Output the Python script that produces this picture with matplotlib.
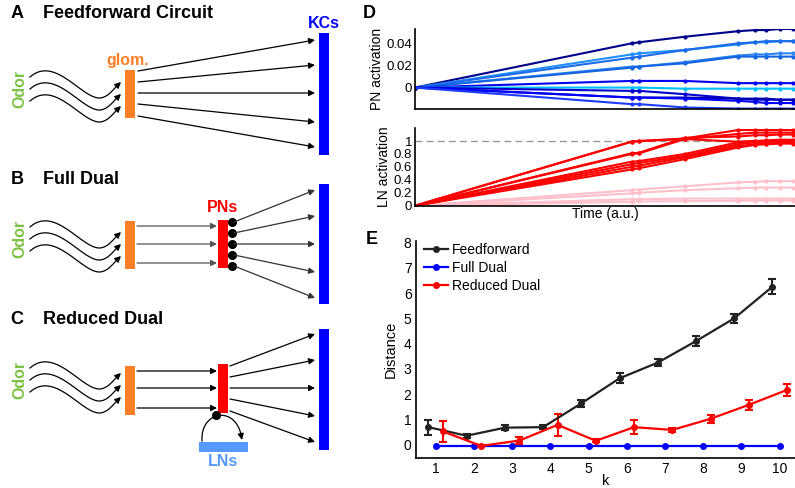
import numpy as np
import matplotlib
matplotlib.use("Agg")
import matplotlib.pyplot as plt
from matplotlib.lines import Line2D

plt.rcParams['font.family'] = ['Liberation Sans', 'DejaVu Sans']

# ---- data: panel D (time courses) ----
t = [0, 0.57, 0.59, 0.71, 0.85, 0.895, 0.925, 0.96, 0.995]

pn_colors = ['#00008B', '#1E90FF', '#1C6BE8', '#2E86F0', '#1565E0', '#0000EE',
             '#00BFFF', '#0000CD', '#0000B0', '#0000FF', '#1E3CFF']
pn_traces = [
    [0, 0.040, 0.041, 0.046, 0.051, 0.052, 0.052, 0.053, 0.053],
    [0, 0.030, 0.031, 0.034, 0.039, 0.041, 0.041, 0.042, 0.042],
    [0, 0.027, 0.028, 0.034, 0.040, 0.041, 0.042, 0.042, 0.042],
    [0, 0.019, 0.019, 0.023, 0.029, 0.030, 0.030, 0.031, 0.031],
    [0, 0.018, 0.019, 0.022, 0.028, 0.028, 0.028, 0.028, 0.028],
    [0, 0.006, 0.006, 0.006, 0.004, 0.004, 0.004, 0.004, 0.004],
    [0, 0.000, 0.000, -0.001, -0.001, -0.001, -0.001, -0.001, -0.001],
    [0, -0.003, -0.003, -0.006, -0.010, -0.011, -0.011, -0.011, -0.011],
    [0, -0.009, -0.009, -0.009, -0.010, -0.010, -0.010, -0.011, -0.011],
    [0, -0.009, -0.009, -0.010, -0.012, -0.013, -0.014, -0.014, -0.014],
    [0, -0.015, -0.015, -0.018, -0.019, -0.019, -0.019, -0.019, -0.019],
]

ln_red = [
    [0, 0.99, 1.00, 1.04, 1.17, 1.17, 1.17, 1.17, 1.17],
    [0, 0.99, 1.00, 1.03, 1.11, 1.13, 1.13, 1.13, 1.13],
    [0, 0.81, 0.82, 1.05, 1.07, 1.09, 1.09, 1.10, 1.10],
    [0, 0.80, 0.81, 1.03, 0.99, 1.00, 1.00, 1.00, 1.00],
    [0, 0.68, 0.69, 0.80, 0.98, 1.00, 1.01, 1.02, 1.02],
    [0, 0.64, 0.66, 0.77, 0.95, 0.98, 0.99, 0.99, 0.99],
    [0, 0.60, 0.62, 0.75, 0.92, 0.95, 0.96, 0.97, 0.97],
    [0, 0.56, 0.58, 0.72, 0.90, 0.94, 0.95, 0.96, 0.96],
]
ln_pink = [
    [0, 0.24, 0.25, 0.30, 0.36, 0.37, 0.38, 0.38, 0.38],
    [0, 0.19, 0.20, 0.24, 0.27, 0.28, 0.28, 0.28, 0.28],
    [0, 0.10, 0.10, 0.11, 0.11, 0.11, 0.11, 0.11, 0.11],
    [0, 0.06, 0.065, 0.07, 0.075, 0.08, 0.08, 0.08, 0.08],
]

# ---- data: panel E (distance vs k) ----
k = np.arange(1, 11)
ff_mean = [0.70, 0.36, 0.68, 0.70, 1.64, 2.63, 3.25, 4.10, 5.00, 6.25]
ff_err = [0.30, 0.07, 0.10, 0.07, 0.15, 0.20, 0.15, 0.20, 0.18, 0.30]
fd_mean = [-0.05] * 10
rd_mean = [0.53, -0.04, 0.17, 0.79, 0.16, 0.70, 0.59, 1.03, 1.58, 2.17]
rd_err = [0.40, 0.05, 0.15, 0.43, 0.06, 0.27, 0.07, 0.15, 0.20, 0.22]

fig = plt.figure(figsize=(7.95, 4.88), dpi=100)

# ---- schematic panels A-C drawn in pixel coordinates ----
sk = fig.add_axes([0, 0, 1, 1])
sk.set_xlim(0, 795)
sk.set_ylim(488, 0)
sk.axis('off')

GREEN = '#7DC242'
ORANGE = '#FF7F27'
BLUE = '#0000FF'
LBLUE = '#5599FF'
RED = '#FF0000'


def arrow(x0, y0, x1, y1, color='k'):
    sk.annotate('', xy=(x1, y1), xytext=(x0, y0),
                arrowprops=dict(arrowstyle='-|>', color=color, lw=0.9,
                                mutation_scale=9, shrinkA=0, shrinkB=0))


def bezier(p0, p1, p2, p3, n=40):
    s = np.linspace(0, 1, n)[:, None]
    return ((1 - s) ** 3 * np.array(p0) + 3 * (1 - s) ** 2 * s * np.array(p1)
            + 3 * (1 - s) * s ** 2 * np.array(p2) + s ** 3 * np.array(p3))


def curve_arrow(pts):
    sk.plot(pts[:-3, 0], pts[:-3, 1], color='k', lw=0.9)
    arrow(pts[-4, 0], pts[-4, 1], pts[-1, 0], pts[-1, 1])


def odor_input(dy):
    sk.text(20, 89 + dy, 'Odor', color=GREEN, fontsize=11.5, fontweight='bold',
            rotation=90, ha='center', va='center')
    for off in [0, 12, 24]:
        y0 = 77 + dy + off
        seg1 = bezier((30, y0), (55, y0 - 22), (82, y0 + 22), (100, y0 + 21))
        seg2 = bezier((100, y0 + 21), (109, y0 + 20), (113, y0 + 12), (121, y0 + 5), n=20)
        curve_arrow(np.vstack([seg1, seg2[1:]]))


def bar(x, y0, y1, color, w=10):
    sk.add_patch(plt.Rectangle((x, y0), w, y1 - y0, color=color, lw=0))


def title(y, letter, text):
    sk.text(17, y, letter, fontsize=13, fontweight='bold', ha='center', va='center')
    sk.text(43, y, text, fontsize=13, fontweight='bold', ha='left', va='center')


# A
title(13, 'A', 'Feedforward Circuit')
odor_input(0)
bar(125, 70, 118, ORANGE)
sk.text(128, 60, 'glom.', color=ORANGE, fontsize=11.5, fontweight='bold',
        ha='center', va='center')
for ys, ye in zip([71, 82, 93, 104, 116], [40, 65, 93, 122, 147]):
    arrow(138, ys, 315, ye)
bar(319, 33, 155, BLUE)
sk.text(324, 23, 'KCs', color=BLUE, fontsize=11.5, fontweight='bold',
        ha='center', va='center')

# B
title(180, 'B', 'Full Dual')
odor_input(150)
bar(125, 221, 269, ORANGE)
for y in [226, 244, 263]:
    arrow(137, y, 217, y, color='#555555')
bar(218, 220, 268, RED)
sk.text(223, 207, 'PNs', color=RED, fontsize=11.5, fontweight='bold',
        ha='center', va='center')
for ys, ye in zip([222, 233, 244, 255, 266], [190, 216, 244, 272, 298]):
    sk.plot(232, ys, 'o', color='k', ms=5.5)
    arrow(234, ys, 315, ye, color='#333333')
bar(319, 184, 304, BLUE)

# C
title(320, 'C', 'Reduced Dual')
odor_input(291)
bar(125, 366, 415, ORANGE)
for y in [371, 388, 408]:
    arrow(137, y, 217, y)
bar(218, 364, 413, RED)
for ys, ye in zip([366, 377, 388, 399, 411], [334, 360, 388, 416, 442]):
    arrow(230, ys, 315, ye)
bar(319, 329, 450, BLUE)
sk.add_patch(plt.Rectangle((199, 441.5), 49, 10, color=LBLUE, lw=0))
sk.text(223, 462, 'LNs', color=LBLUE, fontsize=11.5, fontweight='bold',
        ha='center', va='center')
curve_arrow(bezier((202, 441), (200, 410), (238, 404), (242, 440)))
sk.plot(216, 415, 'o', color='k', ms=5.5)

# panel letters D, E
sk.text(369, 14, 'D', fontsize=13, fontweight='bold', ha='center', va='center')
sk.text(372, 239, 'E', fontsize=13, fontweight='bold', ha='center', va='center')

# ---- panel D: PN activation ----
axp = fig.add_axes([0.522, 0.7766, 0.478, 0.164])
for c, tr in zip(pn_colors, pn_traces):
    axp.plot(t, tr, color=c, lw=1.5, marker='.', ms=4)
axp.set_xlim(0, 1)
axp.set_ylim(-0.0194, 0.053)
axp.set_yticks([0, 0.02, 0.04])
axp.set_yticklabels(['0', '0.02', '0.04'])
axp.set_xticks([])
axp.set_ylabel('PN activation', fontsize=10, labelpad=2)

# ---- panel D: LN activation ----
axl = fig.add_axes([0.522, 0.5785, 0.478, 0.159])
for tr in ln_pink:
    axl.plot(t, tr, color='#FFC0CB', lw=1.5, marker='.', ms=4)
for tr in ln_red:
    axl.plot(t, tr, color='#FF0000', lw=1.5, marker='.', ms=4)
axl.axhline(1, color='#999999', lw=1, ls='--', dashes=(5, 3), zorder=0)
axl.set_xlim(0, 1)
axl.set_ylim(0, 1.2)
axl.set_yticks([0, 0.2, 0.4, 0.6, 0.8, 1])
axl.set_yticklabels(['0', '0.2', '0.4', '0.6', '0.8', '1'])
axl.set_xticks([])
axl.set_ylabel('LN activation', fontsize=10, labelpad=2)
axl.set_xlabel('Time (a.u.)', fontsize=10, labelpad=1)

for ax in (axp, axl):
    for s in ('top', 'right'):
        ax.spines[s].set_visible(False)
    ax.spines['left'].set_linewidth(1.2)
    ax.spines['bottom'].set_linewidth(1.2)
    ax.tick_params(length=0, labelsize=9.5, pad=2)

# ---- panel E ----
axe = fig.add_axes([0.523, 0.0609, 0.477, 0.445])
axe.errorbar(k - 0.19, ff_mean, yerr=ff_err, color='#222222', lw=1.6, marker='o',
             ms=4, capsize=3, elinewidth=1.5, capthick=1.5)
axe.plot(k, fd_mean, color='#0000FF', lw=1.6, marker='o', ms=4)
axe.errorbar(k + 0.19, rd_mean, yerr=rd_err, color='#FF0000', lw=1.6, marker='o',
             ms=4, capsize=3, elinewidth=1.5, capthick=1.5)
axe.set_xlim(0.48, 10.4)
axe.set_ylim(-0.53, 8.05)
axe.set_xticks(k)
axe.set_yticks(range(0, 9))
axe.set_xlabel('k', fontsize=10.5, labelpad=-2)
axe.set_ylabel('Distance', fontsize=10.5, labelpad=4)
for s in ('top', 'right'):
    axe.spines[s].set_visible(False)
axe.spines['left'].set_linewidth(1.2)
axe.spines['bottom'].set_linewidth(1.2)
axe.tick_params(length=0, labelsize=10, pad=3)
handles = [Line2D([], [], color=c, lw=1.6, marker='o', ms=4)
           for c in ('#222222', '#0000FF', '#FF0000')]
axe.legend(handles, ['Feedforward', 'Full Dual', 'Reduced Dual'], loc='upper left',
           frameon=False, fontsize=10, handlelength=1.7, handletextpad=0.3,
           labelspacing=0.3, borderaxespad=0.2, bbox_to_anchor=(0.0, 1.03))

fig.savefig('out.png', dpi=100)
